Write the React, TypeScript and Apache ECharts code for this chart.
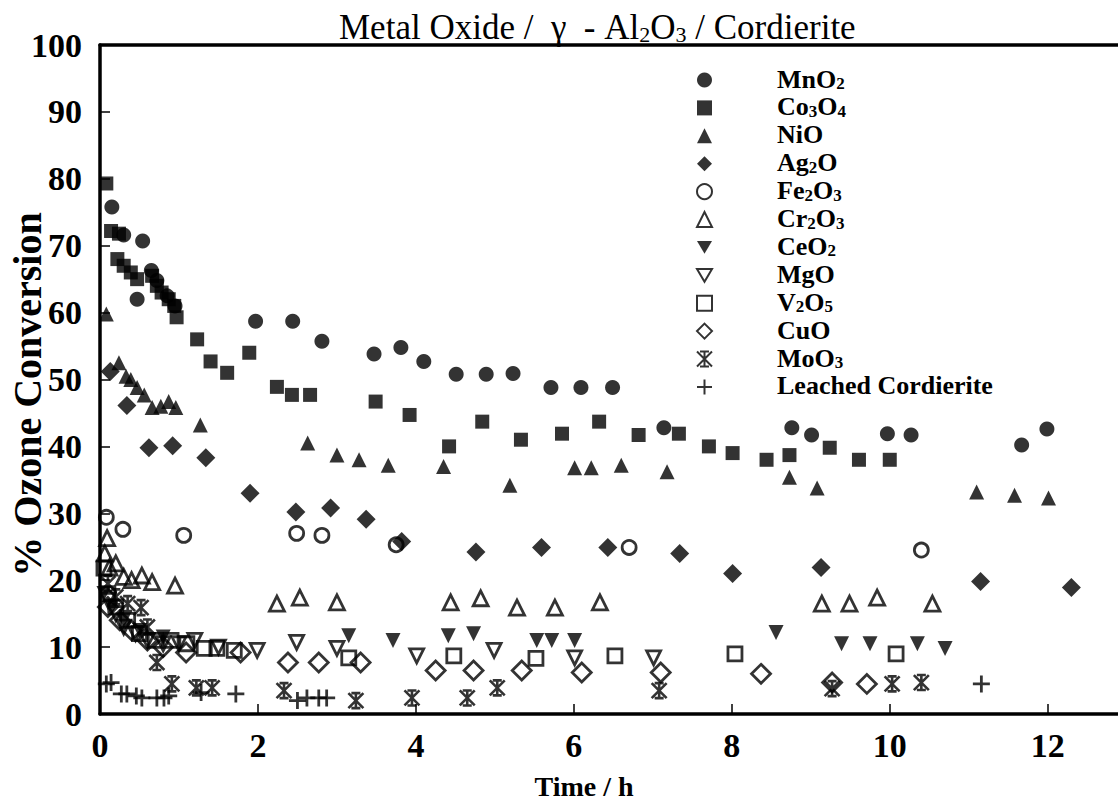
import React, { useEffect, useRef } from "react";
import * as echarts from "echarts";

// Time (h) vs % ozone conversion for each metal oxide on γ-Al2O3 / cordierite
const MnO2: number[][] = [
  [0.15, 75.8], [0.3, 71.6], [0.47, 62], [0.54, 70.7], [0.65, 66.3], [0.72, 64.8], [0.85, 62.5],
  [0.95, 61], [1.97, 58.7], [2.44, 58.7], [2.81, 55.7], [3.47, 53.8], [3.81, 54.8], [4.1, 52.7],
  [4.51, 50.8], [4.89, 50.8], [5.23, 50.9], [5.71, 48.8], [6.09, 48.8], [6.49, 48.8], [7.14, 42.8],
  [8.76, 42.8], [9.01, 41.7], [9.97, 41.9], [10.27, 41.7], [11.67, 40.2], [11.99, 42.6],
];
const Co3O4: number[][] = [
  [0.08, 79.3], [0.14, 72.2], [0.24, 71.8], [0.22, 68], [0.3, 67], [0.39, 66], [0.47, 65],
  [0.66, 65.5], [0.72, 64], [0.78, 63], [0.87, 62], [0.94, 61], [0.97, 59.3], [1.23, 56],
  [1.4, 52.7], [1.61, 51], [1.89, 54], [2.24, 48.9], [2.43, 47.7], [2.66, 47.7], [3.49, 46.7],
  [3.92, 44.7], [4.42, 40], [4.84, 43.7], [5.33, 41], [5.85, 41.9], [6.32, 43.7], [6.82, 41.7],
  [7.33, 41.9], [7.71, 40], [8.01, 39], [8.44, 38], [8.73, 38.7], [9.24, 39.8], [9.61, 38], [10.0, 38],
];
const NiO: number[][] = [
  [0.08, 59.8], [0.24, 52.5], [0.33, 50.5], [0.39, 50], [0.47, 48.8], [0.56, 47.7], [0.66, 45.8],
  [0.77, 46], [0.87, 46.7], [0.96, 45.8], [1.27, 43.2], [2.63, 40.5], [3.0, 38.7], [3.28, 38],
  [3.65, 37.2], [4.35, 37], [5.19, 34.2], [6.01, 36.8], [6.22, 36.8], [6.6, 37.2], [7.18, 36.2],
  [8.73, 35.4], [9.08, 33.8], [11.1, 33.2], [11.58, 32.7], [12.01, 32.3],
];
const Ag2O: number[][] = [
  [0.13, 51.2], [0.34, 46.1], [0.62, 39.8], [0.92, 40.1], [1.34, 38.3], [1.9, 33], [2.48, 30.2],
  [2.92, 30.8], [3.37, 29.1], [3.82, 25.8], [4.76, 24.2], [5.59, 24.9], [6.43, 24.9], [7.34, 24],
  [8.01, 21], [9.13, 21.9], [11.15, 19.8], [12.3, 18.9],
];
const Fe2O3: number[][] = [
  [0.08, 29.4], [0.29, 27.6], [1.06, 26.7], [2.49, 27], [2.81, 26.7], [3.75, 25.3], [6.7, 24.9], [10.4, 24.5],
];
const Cr2O3: number[][] = [
  [0.06, 24], [0.09, 26.3], [0.12, 21.9], [0.2, 22.5], [0.3, 20.5], [0.4, 20], [0.53, 20.7],
  [0.66, 19.7], [0.95, 19.2], [2.24, 16.5], [2.53, 17.4], [3.0, 16.7], [4.44, 16.7], [4.82, 17.3],
  [5.28, 15.9], [5.76, 15.9], [6.33, 16.7], [9.14, 16.5], [9.49, 16.5], [9.84, 17.4], [10.54, 16.5],
];
const CeO2: number[][] = [
  [0.05, 18], [0.15, 16], [0.3, 14], [0.5, 12.5], [0.8, 11.5], [3.15, 11.7], [3.71, 11], [4.41, 11.7],
  [4.73, 12], [5.53, 11], [5.72, 11], [6.01, 11], [8.56, 12.2], [9.39, 10.5], [9.75, 10.5],
  [10.35, 10.5], [10.7, 9.8],
];
const MgO: number[][] = [
  [0.1, 17], [0.2, 15], [0.3, 13], [0.45, 12], [0.6, 11], [0.8, 10.5], [1.0, 10.5], [1.2, 11],
  [1.5, 10], [1.99, 9.5], [2.49, 10.7], [3.0, 9.8], [4.01, 8.7], [4.99, 9.5], [6.01, 8.4], [7.01, 8.4],
];
const V2O5: number[][] = [
  [0.05, 21.8], [0.1, 18], [0.2, 16], [0.35, 14], [0.5, 12], [0.7, 11], [0.9, 11], [1.1, 10.5],
  [1.32, 9.8], [1.48, 9.8], [1.7, 9.5], [3.15, 8.4], [4.48, 8.7], [5.52, 8.3], [6.52, 8.7],
  [8.04, 9], [10.08, 9],
];
const CuO: number[][] = [
  [0.1, 16], [0.25, 14], [0.4, 12.5], [0.6, 11], [0.8, 10], [1.09, 9.2], [1.78, 9.2], [2.38, 7.7],
  [2.77, 7.7], [3.3, 7.7], [4.25, 6.5], [4.73, 6.5], [5.34, 6.5], [6.1, 6.2], [7.1, 6.2],
  [8.37, 6], [9.27, 4.7], [9.71, 4.5],
];
const MoO3: number[][] = [
  [0.1, 19.5], [0.2, 17.5], [0.35, 16.5], [0.52, 15.9], [0.6, 13], [0.72, 7.7], [0.91, 4.5],
  [1.22, 3.9], [1.42, 3.9], [2.33, 3.5], [3.24, 2], [3.95, 2.4], [4.65, 2.4], [5.03, 3.9],
  [7.08, 3.5], [9.27, 3.8], [10.03, 4.5], [10.4, 4.7],
];
const LeachedCordierite: number[][] = [
  [0.08, 4.5], [0.14, 4.7], [0.27, 3], [0.34, 3], [0.46, 2.7], [0.53, 2.4], [0.72, 2.4],
  [0.81, 2.4], [0.87, 2.7], [1.28, 3.2], [1.72, 3], [2.5, 2], [2.62, 2.4], [2.77, 2.4],
  [2.87, 2.4], [11.16, 4.5],
];

const xTicks = [0, 2, 4, 6, 8, 10, 12];
const yTicks = [0, 10, 20, 30, 40, 50, 60, 70, 80, 90, 100];

const SERIF = "'Liberation Serif', 'DejaVu Serif', serif";

const DOWN_TRI = "path://M0,0 L20,0 L10,17 Z";
const ASTERISK = "path://M0,0 L20,20 M20,0 L0,20 M10,0 L10,20 M4,0 L16,0 M4,20 L16,20";
const PLUS = "path://M10,0 L10,20 M0,10 L20,10";

const filled = { color: "#000", borderWidth: 0 };
const open = { color: "rgba(0,0,0,0)", borderColor: "#000", borderWidth: 2.8 };

type Spec = { name: string; data: number[][]; symbol: string; size: number; style: any };

const specs: Spec[] = [
  { name: "MnO2", data: MnO2, symbol: "circle", size: 15, style: filled },
  { name: "Co3O4", data: Co3O4, symbol: "rect", size: 14, style: filled },
  { name: "NiO", data: NiO, symbol: "triangle", size: 15, style: filled },
  { name: "Ag2O", data: Ag2O, symbol: "diamond", size: 19, style: filled },
  { name: "Fe2O3", data: Fe2O3, symbol: "circle", size: 14, style: open },
  { name: "Cr2O3", data: Cr2O3, symbol: "triangle", size: 15, style: open },
  { name: "CeO2", data: CeO2, symbol: DOWN_TRI, size: 15, style: filled },
  { name: "MgO", data: MgO, symbol: DOWN_TRI, size: 14, style: open },
  { name: "V2O5", data: V2O5, symbol: "rect", size: 14, style: open },
  { name: "CuO", data: CuO, symbol: "diamond", size: 19, style: open },
  { name: "MoO3", data: MoO3, symbol: ASTERISK, size: 15, style: { ...open, borderWidth: 2.6 } },
  { name: "Leached Cordierite", data: LeachedCordierite, symbol: PLUS, size: 17, style: { ...open, borderWidth: 2.8 } },
];

// Chemical formulae: digits rendered as subscripts
const formula = (s: string) =>
  s
    .split(/(\d)/)
    .filter((t) => t.length > 0)
    .map((t) => (/^\d$/.test(t) ? `{s|${t}}` : `{n|${t}}`))
    .join("");

export default function App() {
  const ref = useRef<HTMLDivElement>(null);

  useEffect(() => {
    if (!ref.current) return;
    const chart = echarts.init(ref.current, null, { renderer: "svg" });

    chart.setOption({
      animation: false,
      backgroundColor: "#fff",
      title: {
        text: formula("Metal Oxide /  γ  - Al2O3 / Cordierite"),
        left: 334,
        top: 4,
        textStyle: {
          rich: {
            n: { fontFamily: SERIF, fontSize: 35, fontWeight: "normal", color: "#000", lineHeight: 36, verticalAlign: "bottom" },
            s: { fontFamily: SERIF, fontSize: 22, fontWeight: "normal", color: "#000", lineHeight: 18, verticalAlign: "bottom" },
          },
        },
      },
      legend: {
        orient: "vertical",
        left: 691,
        top: 61,
        itemWidth: 15,
        itemHeight: 15,
        itemGap: 1.9,
        selectedMode: false,
        data: specs.map((s) => s.name),
        formatter: (name: string) => formula(name),
        textStyle: {
          padding: [0, 0, 0, 60],
          rich: {
            n: { fontFamily: SERIF, fontSize: 26, fontWeight: "bold", color: "#000", lineHeight: 24, verticalAlign: "bottom" },
            s: { fontFamily: SERIF, fontSize: 17, fontWeight: "bold", color: "#000", lineHeight: 12, verticalAlign: "bottom" },
          },
        },
      },
      grid: { left: 100, right: 0, top: 45, bottom: 95, outerBoundsMode: "none", containLabel: false },
      xAxis: [
        {
          type: "value",
          min: 0,
          max: 12.89,
          interval: 2,
          name: "Time / h",
          nameLocation: "middle",
          nameGap: 58,
          nameMoveOverlap: false,
          nameTextStyle: {
            fontFamily: SERIF,
            fontSize: 28,
            fontWeight: "bold",
            color: "#000",
            padding: [0, 50, 0, 0],
          },
          axisLine: { lineStyle: { color: "#000", width: 3.5 } },
          axisTick: { inside: true, length: 10, lineStyle: { color: "#000", width: 1.5 }, customValues: xTicks },
          axisLabel: {
            customValues: xTicks,
            margin: 14,
            fontFamily: SERIF,
            fontSize: 34,
            fontWeight: "bold",
            color: "#000",
          },
          splitLine: { show: false },
        },
        {
          type: "value",
          position: "top",
          min: 0,
          max: 12.89,
          axisLine: { lineStyle: { color: "#000", width: 3.5 } },
          axisTick: { show: false },
          axisLabel: { show: false },
          splitLine: { show: false },
        },
      ],
      yAxis: {
        type: "value",
        min: 0,
        max: 100,
        interval: 10,
        name: "% Ozone Conversion",
        nameLocation: "middle",
        nameGap: 54,
        nameMoveOverlap: false,
        nameTextStyle: {
          fontFamily: SERIF,
          fontSize: 40,
          lineHeight: 38,
          fontWeight: "bold",
          color: "#000",
          padding: [0, 30, 0, 0],
        },
        axisLine: { lineStyle: { color: "#000", width: 3.5 } },
        axisTick: { inside: true, length: 10, lineStyle: { color: "#000", width: 1.5 } },
        axisLabel: {
          customValues: yTicks,
          margin: 18,
          fontFamily: SERIF,
          fontSize: 34,
          fontWeight: "bold",
          color: "#000",
        },
        splitLine: { show: false },
      },
      series: specs.map((s) => ({
        type: "scatter",
        name: s.name,
        data: s.data,
        symbol: s.symbol,
        symbolSize: s.size,
        itemStyle: s.style,
        xAxisIndex: 0,
        emphasis: { disabled: true },
      })),
    });

    return () => chart.dispose();
  }, []);

  return (
    <div
      ref={ref}
      style={{ position: "fixed", left: 0, top: 0, width: 1118, height: 809, background: "#fff" }}
    />
  );
}
